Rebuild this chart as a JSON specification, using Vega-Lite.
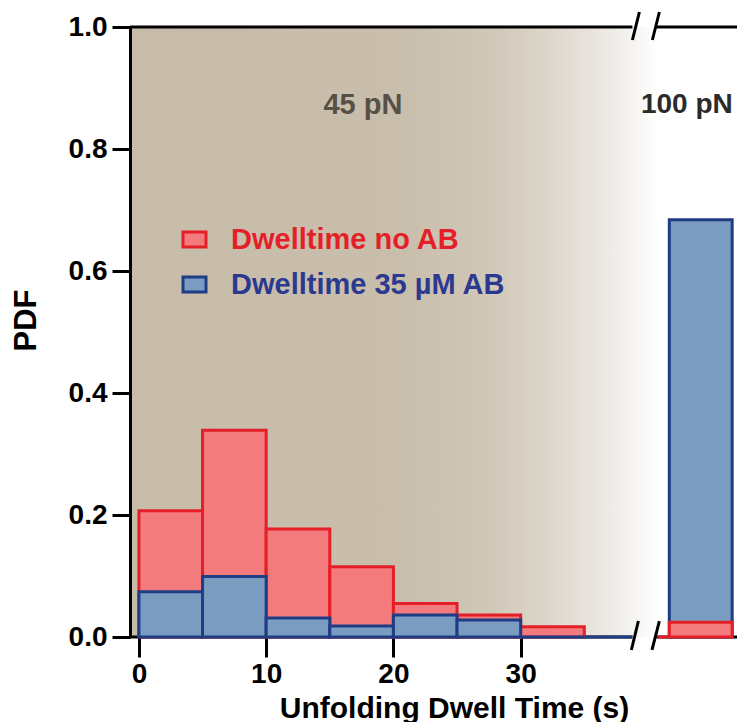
{
  "$schema": "https://vega.github.io/schema/vega-lite/v6.json",
  "width": 607,
  "height": 610,
  "autosize": {"type": "none"},
  "padding": {"left": 130, "top": 27, "right": 0, "bottom": 85},
  "background": "white",
  "config": {
    "view": {"stroke": null},
    "font": "Liberation Sans",
    "axis": {"grid": false}
  },
  "data": {"values": [{}]},
  "layer": [
    {
      "mark": {
        "type": "rect",
        "fill": {
          "gradient": "linear", "x1": 0, "x2": 1, "y1": 0, "y2": 0,
          "stops": [
            {"offset": 0, "color": "#c7bcaa"},
            {"offset": 0.45, "color": "#c9beac"},
            {"offset": 0.6, "color": "#d1c8b9"},
            {"offset": 0.7, "color": "#ded8cd"},
            {"offset": 0.78, "color": "#ece8e2"},
            {"offset": 0.84, "color": "#f8f7f5"},
            {"offset": 0.87, "color": "#ffffff"},
            {"offset": 1, "color": "#ffffff"}
          ]
        }
      },
      "encoding": {
        "x": {
          "datum": -0.7,
          "type": "quantitative",
          "scale": {"domain": [-0.7, 47], "nice": false, "zero": false},
          "axis": {
            "values": [0, 10, 20, 30],
            "domain": false,
            "tickWidth": 3, "tickSize": 20, "tickColor": "black",
            "labelFontSize": 28, "labelFontWeight": "bold", "labelColor": "black", "labelPadding": 3,
            "title": "Unfolding Dwell Time (s)",
            "titleFontSize": 30, "titleFontWeight": "bold", "titleColor": "black",
            "titleX": 324, "titleY": 80, "titleBaseline": "alphabetic", "titleAlign": "center", "titleAnchor": null
          }
        },
        "x2": {"datum": 47},
        "y": {
          "datum": 0,
          "type": "quantitative",
          "scale": {"domain": [0, 1], "nice": false},
          "axis": {
            "values": [0, 0.2, 0.4, 0.6, 0.8, 1.0],
            "format": ".1f",
            "zindex": 1,
            "domainWidth": 3, "domainColor": "black",
            "tickWidth": 3, "tickSize": 18, "tickColor": "black",
            "labelFontSize": 28, "labelFontWeight": "bold", "labelColor": "black", "labelPadding": 5,
            "title": "PDF",
            "titleFontSize": 31, "titleFontWeight": "bold", "titleColor": "black",
            "titlePadding": 26,
            "titleY": 293
          }
        },
        "y2": {"datum": 1}
      }
    },
    {
      "mark": {"type": "rule", "color": "black", "strokeWidth": 3},
      "encoding": {"x": {"datum": -0.7}, "x2": {"datum": 38.78}, "y": {"datum": 0}}
    },
    {
      "mark": {"type": "rule", "color": "black", "strokeWidth": 3},
      "encoding": {"x": {"datum": 40.66}, "x2": {"datum": 47}, "y": {"datum": 0}}
    },
    {
      "mark": {"type": "rule", "color": "black", "strokeWidth": 3},
      "encoding": {"x": {"datum": -0.7}, "x2": {"datum": 38.78}, "y": {"datum": 1}}
    },
    {
      "mark": {"type": "rule", "color": "black", "strokeWidth": 3},
      "encoding": {"x": {"datum": 40.66}, "x2": {"datum": 47}, "y": {"datum": 1}}
    },
    {
      "mark": {"type": "rule", "color": "black", "strokeWidth": 3},
      "encoding": {"x": {"datum": 38.7}, "x2": {"datum": 39.25}, "y": {"datum": -0.0213}, "y2": {"datum": 0.0262}}
    },
    {
      "mark": {"type": "rule", "color": "black", "strokeWidth": 3},
      "encoding": {"x": {"datum": 40.32}, "x2": {"datum": 40.9}, "y": {"datum": -0.0213}, "y2": {"datum": 0.0262}}
    },
    {
      "mark": {"type": "rule", "color": "black", "strokeWidth": 3},
      "encoding": {"x": {"datum": 38.78}, "x2": {"datum": 39.33}, "y": {"datum": 0.9787}, "y2": {"datum": 1.0246}}
    },
    {
      "mark": {"type": "rule", "color": "black", "strokeWidth": 3},
      "encoding": {"x": {"datum": 40.35}, "x2": {"datum": 40.9}, "y": {"datum": 0.9787}, "y2": {"datum": 1.0246}}
    },
    {
      "data": {
        "values": [
          {"series": "Dwelltime no AB", "start": 0, "end": 5, "pdf": 0.207},
          {"series": "Dwelltime no AB", "start": 5, "end": 10, "pdf": 0.339},
          {"series": "Dwelltime no AB", "start": 10, "end": 15, "pdf": 0.177},
          {"series": "Dwelltime no AB", "start": 15, "end": 20, "pdf": 0.115},
          {"series": "Dwelltime no AB", "start": 20, "end": 25, "pdf": 0.055},
          {"series": "Dwelltime no AB", "start": 25, "end": 30, "pdf": 0.036},
          {"series": "Dwelltime no AB", "start": 30, "end": 35, "pdf": 0.017},
          {"series": "Dwelltime 35 µM AB", "start": 0, "end": 5, "pdf": 0.074},
          {"series": "Dwelltime 35 µM AB", "start": 5, "end": 10, "pdf": 0.099},
          {"series": "Dwelltime 35 µM AB", "start": 10, "end": 15, "pdf": 0.031},
          {"series": "Dwelltime 35 µM AB", "start": 15, "end": 20, "pdf": 0.018},
          {"series": "Dwelltime 35 µM AB", "start": 20, "end": 25, "pdf": 0.036},
          {"series": "Dwelltime 35 µM AB", "start": 25, "end": 30, "pdf": 0.028},
          {"series": "Dwelltime 35 µM AB", "start": 30, "end": 35, "pdf": 0},
          {"series": "Dwelltime 35 µM AB", "start": 35, "end": 38.78, "pdf": 0},
          {"series": "Dwelltime 35 µM AB", "start": 41.68, "end": 46.62, "pdf": 0.684},
          {"series": "Dwelltime no AB", "start": 41.68, "end": 46.62, "pdf": 0.024},
          {"series": "Dwelltime no AB", "start": 40.74, "end": 41.68, "pdf": 0}
        ]
      },
      "mark": {"type": "bar", "strokeWidth": 3},
      "encoding": {
        "x": {"field": "start", "type": "quantitative"},
        "x2": {"field": "end"},
        "y": {"field": "pdf", "type": "quantitative"},
        "y2": {"datum": 0},
        "fill": {
          "field": "series", "type": "nominal",
          "scale": {"domain": ["Dwelltime no AB", "Dwelltime 35 µM AB"], "range": ["#f37b7e", "#7b9cc1"]},
          "legend": {
            "title": null,
            "orient": "none",
            "legendX": 50,
            "legendY": 198,
            "padding": 0,
            "symbolType": "M-1.15,-0.75H1.15V0.75H-1.15Z",
            "symbolSize": 400,
            "symbolStrokeWidth": 3,
            "labelFontSize": 29,
            "labelFontWeight": "bold",
            "labelOffset": 22,
            "rowPadding": 15,
            "labelLimit": 500,
            "encode": {
              "labels": {
                "update": {
                  "fill": {"signal": "datum.value === 'Dwelltime no AB' ? '#e41f27' : '#2b3a8e'"}
                }
              }
            }
          }
        },
        "stroke": {
          "field": "series", "type": "nominal",
          "scale": {"domain": ["Dwelltime no AB", "Dwelltime 35 µM AB"], "range": ["#e41f27", "#1f3d85"]}
        }
      }
    },
    {
      "mark": {"type": "text", "text": "45 pN", "fontSize": 29, "fontWeight": "bold", "color": "#565047", "align": "center", "baseline": "middle"},
      "encoding": {"x": {"datum": 17.6}, "y": {"datum": 0.872}}
    },
    {
      "mark": {"type": "text", "text": "100 pN", "fontSize": 28, "fontWeight": "bold", "color": "#2b2b2b", "align": "left", "baseline": "middle"},
      "encoding": {"x": {"datum": 39.45}, "y": {"datum": 0.872}}
    }
  ]
}
